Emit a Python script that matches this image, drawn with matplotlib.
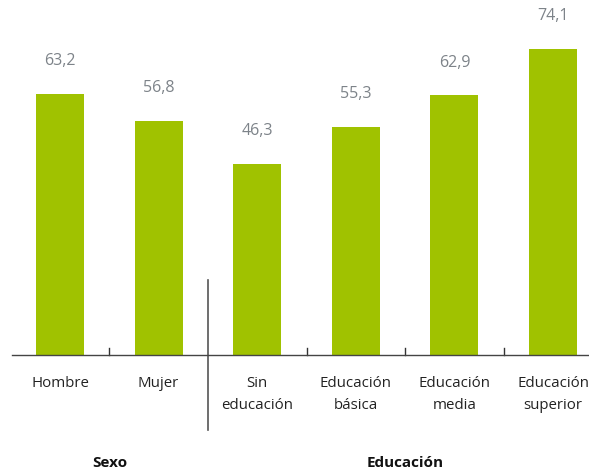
import matplotlib
matplotlib.use("Agg")
import matplotlib.pyplot as plt

categories = ["Hombre", "Mujer", "Sin\neducación", "Educación\nbásica", "Educación\nmedia", "Educación\nsuperior"]
values = [63.2, 56.8, 46.3, 55.3, 62.9, 74.1]
value_labels = ["63,2", "56,8", "46,3", "55,3", "62,9", "74,1"]
groups = ["Sexo", "Educación"]

plt.rcParams['font.family'] = ['Open Sans', 'DejaVu Sans']

W, H = 589, 472
fig = plt.figure(figsize=(W / 100, H / 100), dpi=100)
ax = fig.add_axes([12 / W, (H - 355) / H, 1 - 12 / W, 355 / H])

x = list(range(len(categories)))
ax.bar(x, values, width=0.487, color="#a0c200")
ax.set_xlim(-0.487, 5.365)
ax.set_ylim(0, 86)

for xi, v, lab in zip(x, values, value_labels):
    ax.annotate(lab, (xi, v), xytext=(0, 23.5), textcoords="offset points",
                ha="center", va="center", fontsize=11.5, color="#7d8389")

for s in ["top", "right", "left"]:
    ax.spines[s].set_visible(False)
ax.spines["bottom"].set_color("#444444")
ax.spines["bottom"].set_linewidth(1.0)
ax.set_yticks([])
ax.set_xticks([])

# separator ticks
for sep in [0.5, 2.5, 3.5, 4.5]:
    ax.plot([sep, sep], [0, 7 / 4.13], color="#333333", lw=1.0, clip_on=False)

# vertical separator between groups
ax.plot([1.5, 1.5], [-75 / 4.13, 75 / 4.13], color="#555555", lw=1.2, clip_on=False)

# category labels
for xi, c in zip(x, categories):
    ax.text(xi, -21.5 / 4.13, c, ha="center", va="top", fontsize=10.8,
            color="#222222", linespacing=1.55)

# group labels
ax.text(0.5, -108 / 4.13, groups[0], ha="center", va="center", fontsize=11,
        fontweight="bold", color="#111111")
ax.text(3.5, -108 / 4.13, groups[1], ha="center", va="center", fontsize=11,
        fontweight="bold", color="#111111")

fig.savefig("out.png", dpi=100)
